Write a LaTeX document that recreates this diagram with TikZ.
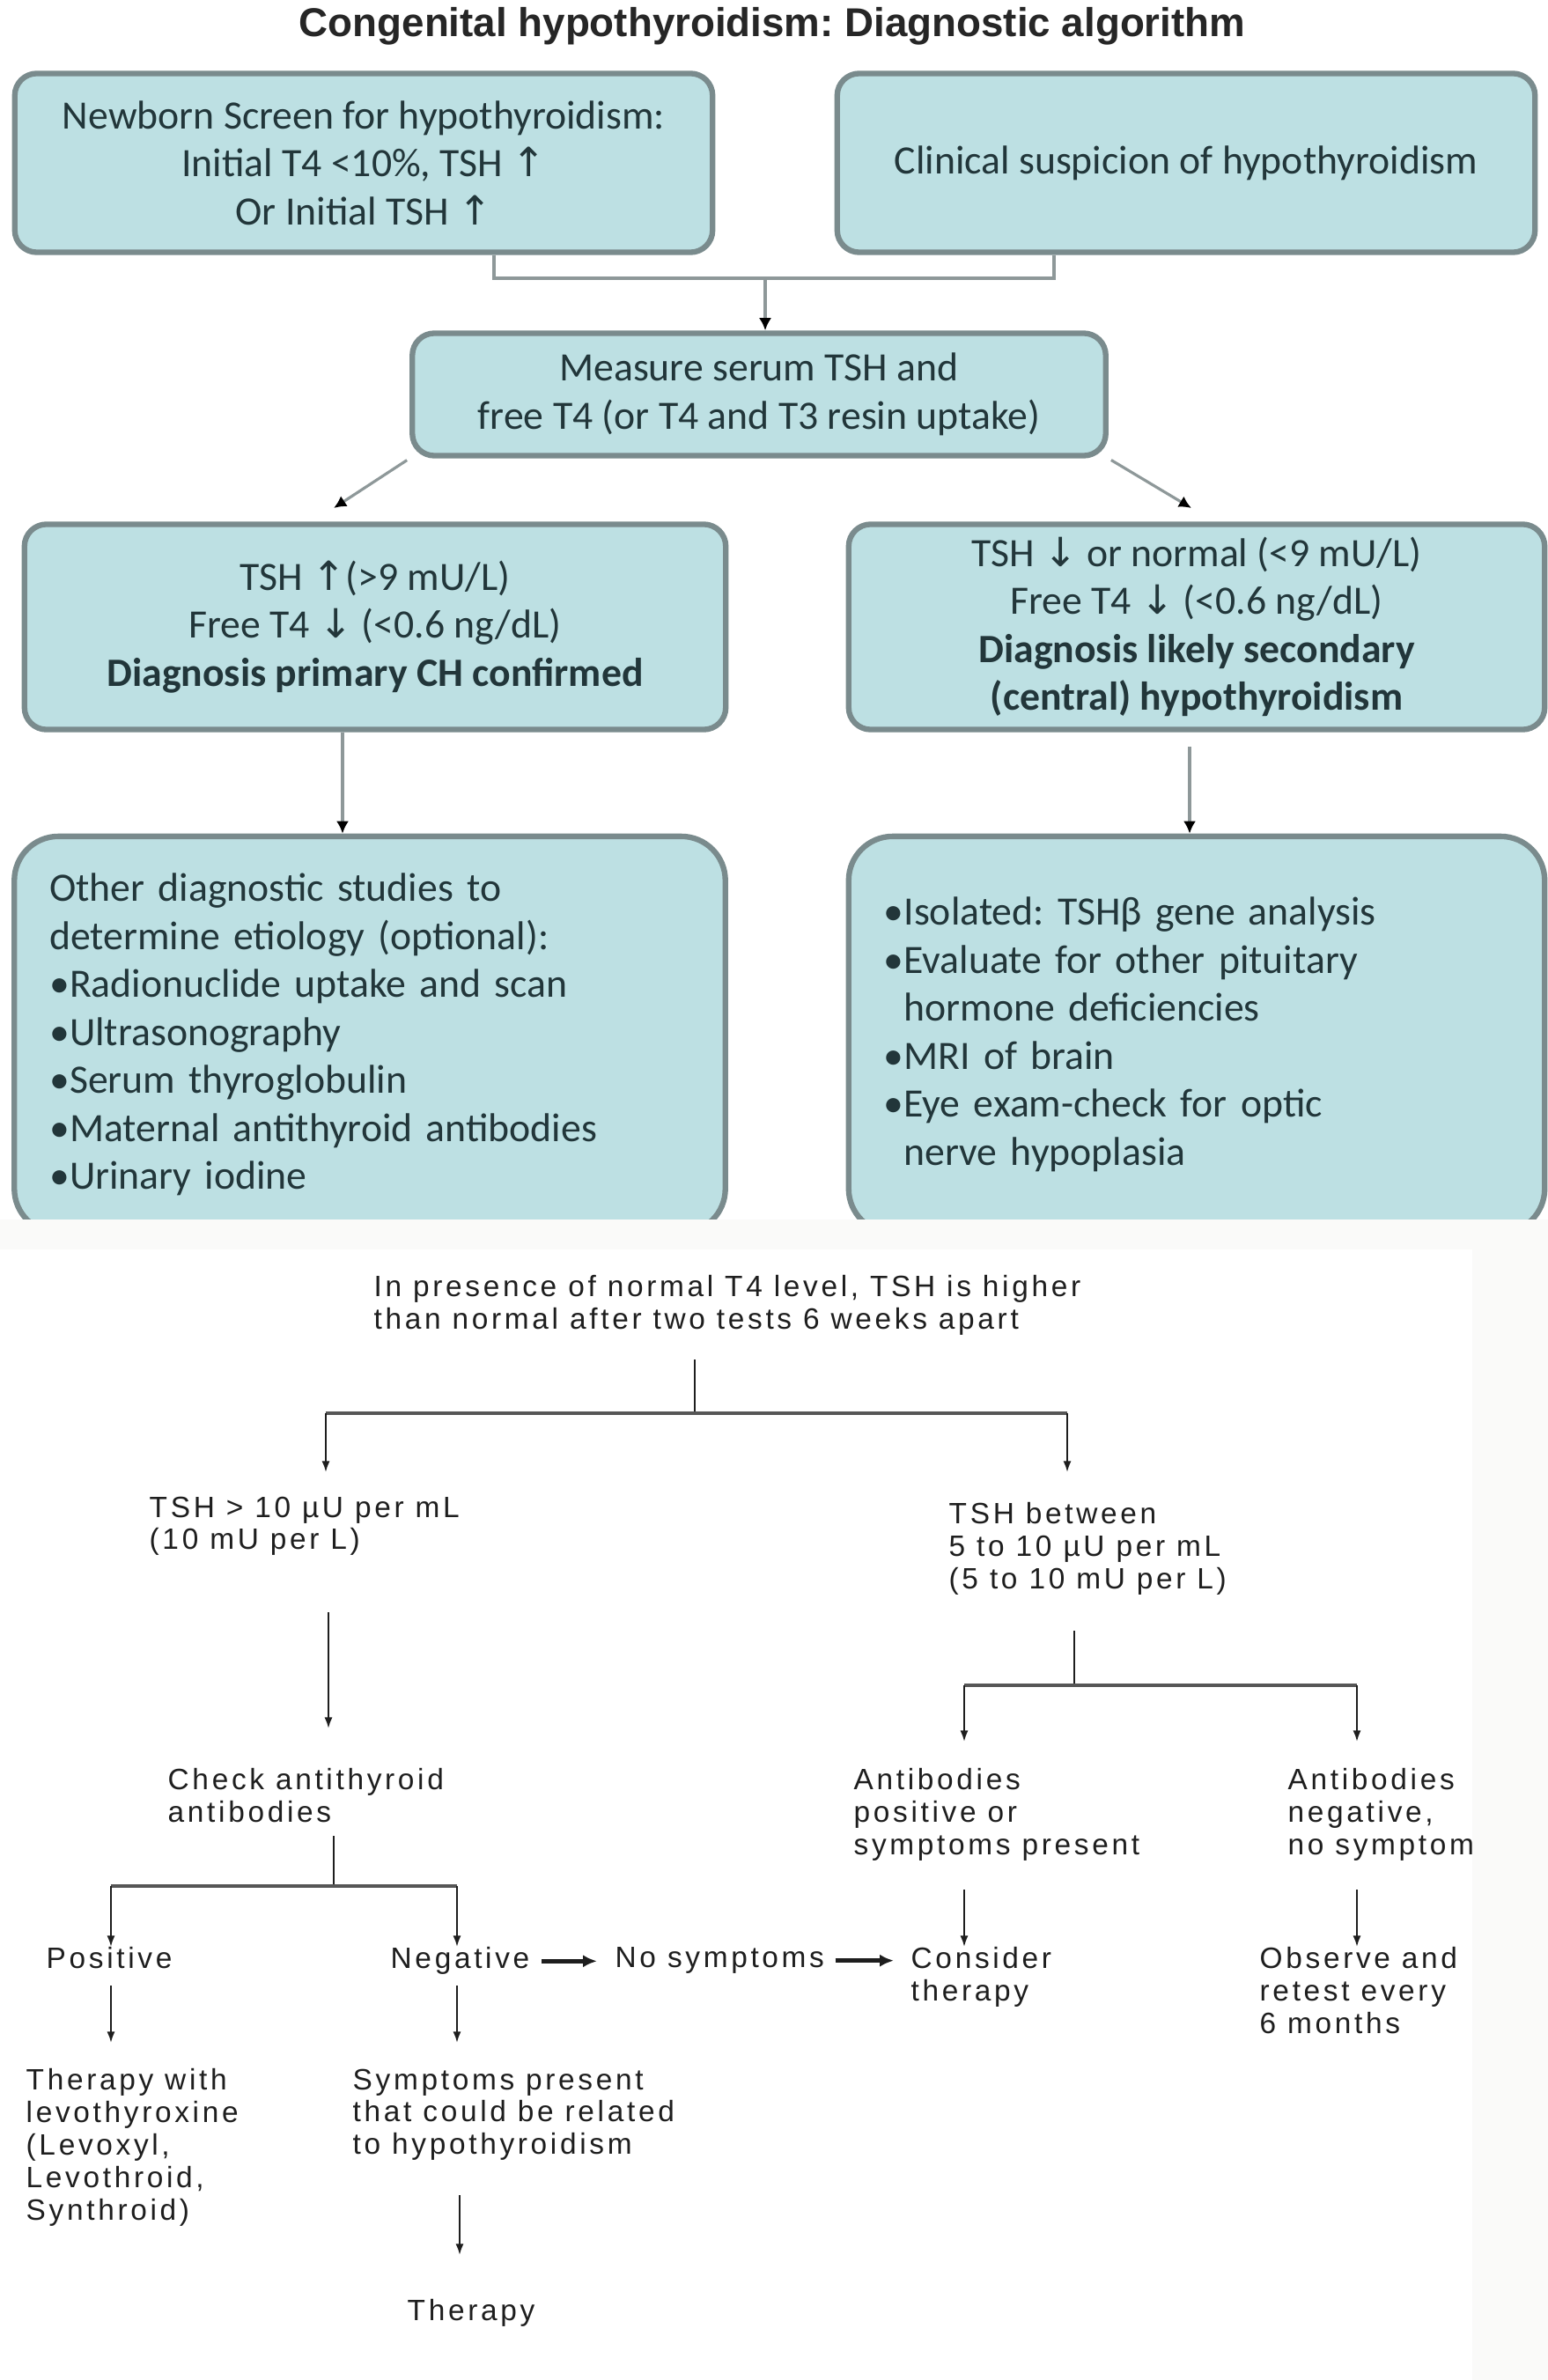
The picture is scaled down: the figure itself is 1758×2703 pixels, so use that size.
\documentclass[tikz,border=0pt]{standalone}
\usepackage{fontspec}
\usetikzlibrary{arrows.meta}

\newfontfamily\boxfont{Carlito}
\newfontfamily\headfont{Liberation Sans}
\newfontfamily\plainfont[LetterSpace=11]{Liberation Sans}
\newfontfamily\arrowfont{DejaVu Sans}
\newcommand{\uparr}{{\arrowfont ↑}}
\newcommand{\dnarr}{{\arrowfont ↓}}
\frenchspacing

\definecolor{boxfill}{HTML}{BDE0E3}
\definecolor{boxedge}{HTML}{7A8B8D}
\definecolor{boxtext}{HTML}{22363A}
\definecolor{linkgray}{HTML}{8E9899}
\definecolor{stripgray}{HTML}{FAFAF9}
\definecolor{plaintext}{HTML}{1E1E1E}

\tikzset{
  algbox/.style={draw=boxedge, fill=boxfill, line width=1.8pt, rounded corners=0.25cm,
    text=boxtext, font=\boxfont\fontsize{13}{15.5}\selectfont, align=center, inner sep=0pt},
  listbox/.style={algbox, rounded corners=0.5cm, align=left, inner xsep=0.4cm},
  link/.style={draw=linkgray, line width=1.1pt},
  linkarrow/.style={draw=linkgray, line width=0.9pt, -{Latex[length=4pt,width=4pt,color=black]}},
  plain/.style={font=\plainfont\fontsize{9.5}{10.5}\selectfont, text=plaintext,
    align=left, inner sep=0pt, anchor=north west},
  stem/.style={draw=plaintext, line width=0.6pt},
  stemarrow/.style={stem, -{Latex[length=3.6pt,width=2.6pt]}},
  bar/.style={draw=plaintext!75, line width=1.4pt},
  hop/.style={draw=plaintext, line width=1.3pt, -{Latex[length=4.5pt,width=4pt]}}
}

\begin{document}
\begin{tikzpicture}[x=0.01cm, y=-0.01cm]
  \useasboundingbox (0,0) rectangle (1758,2703);
  \fill[white] (0,0) rectangle (1758,2703);

  \node[font=\headfont\bfseries\fontsize{13}{15}\selectfont, text=black!85] (title) at (877,30)
    {Congenital hypothyroidism: Diagnostic algorithm};

  % upper chart
  \node[algbox, minimum width=7.92cm, minimum height=2.03cm] (screen) at (413,185)
    {Newborn Screen for hypothyroidism:\\Initial T4 <10\%, TSH \uparr\\Or Initial TSH \uparr};
  \node[algbox, minimum width=7.92cm, minimum height=2.03cm] (clinical) at (1347,185)
    {Clinical suspicion of hypothyroidism};
  \node[algbox, minimum width=7.87cm, minimum height=1.39cm] (measure) at (862,448)
    {Measure serum TSH and\\free T4 (or T4 and T3 resin uptake)};
  \node[algbox, minimum width=7.96cm, minimum height=2.33cm] (primary) at (426,712)
    {TSH \uparr(>9 mU/L)\\Free T4 \dnarr\ (<0.6 ng/dL)\\\textbf{Diagnosis primary CH confirmed}};
  \node[algbox, minimum width=7.90cm, minimum height=2.33cm] (central) at (1359,712)
    {TSH \dnarr\ or normal (<9 mU/L)\\Free T4 \dnarr\ (<0.6 ng/dL)\\\textbf{Diagnosis likely secondary}\\\textbf{(central) hypothyroidism}};
  \node[listbox, text width=7.27cm, minimum height=4.5cm] (etio) at (420,1175)
    {Other diagnostic studies to\\determine etiology (optional):\\•Radionuclide uptake and scan\\•Ultrasonography\\•Serum thyroglobulin\\•Maternal antithyroid antibodies\\•Urinary iodine};
  \node[listbox, text width=7.10cm, minimum height=4.5cm] (workup) at (1359,1175)
    {•Isolated: TSHβ gene analysis\\•Evaluate for other pituitary\\\phantom{•}hormone deficiencies\\•MRI of brain\\•Eye exam-check for optic\\\phantom{•}nerve hypoplasia};

  \coordinate (joinL) at (561,316);
  \coordinate (joinR) at (1197,316);
  \coordinate (joinM) at (869,316);
  \draw[link] (joinL |- screen.south) -- (joinL) -- (joinR) -- (joinR |- clinical.south);
  \draw[linkarrow] (joinM) -- (joinM |- measure.north);
  \coordinate (leftEnd) at (379,577);
  \coordinate (rightEnd) at (1353,577);
  \draw[linkarrow, shorten <=1pt] (measure.south west) -- (leftEnd);
  \draw[linkarrow, shorten <=1pt] (measure.south east) -- (rightEnd);
  \coordinate (primStem) at (389,0);
  \coordinate (centStem) at (1351,0);
  \draw[linkarrow] (primStem |- primary.south) -- (primStem |- etio.north);
  \draw[linkarrow, shorten <=0.16cm] (centStem |- central.south) -- (centStem |- workup.north);

  % second picture pasted below
  \fill[stripgray] (0,1385) rectangle (1758,1419);
  \fill[stripgray] (1672,1419) rectangle (1758,2703);

  \node[plain] (normal) at (424,1448)
    {In presence of normal T4 level, TSH is higher\\than normal after two tests 6 weeks apart};
  \node[plain] (hi) at (169,1699) {TSH > 10 µU per mL\\(10 mU per L)};
  \node[plain] (mid) at (1077,1706) {TSH between\\5 to 10 µU per mL\\(5 to 10 mU per L)};
  \node[plain] (chk) at (190,2008) {Check antithyroid\\antibodies};
  \node[plain] (abpos) at (969,2008) {Antibodies\\positive or\\symptoms present};
  \node[plain] (abneg) at (1462,2008) {Antibodies\\negative,\\no symptom};
  \node[plain] (pos) at (52,2211) {Positive};
  \node[plain] (neg) at (443,2211) {Negative};
  \node[plain] (nosym) at (698,2211) {No symptoms};
  \node[plain] (cons) at (1034,2211) {Consider\\therapy};
  \node[plain] (obs) at (1430,2211) {Observe and\\retest every\\6 months};
  \node[plain] (levo) at (29,2349) {Therapy with\\levothyroxine\\(Levoxyl,\\Levothroid,\\Synthroid)};
  \node[plain] (sympt) at (400,2349) {Symptoms present\\that could be related\\to hypothyroidism};
  \node[plain] (ther) at (462,2611) {Therapy};

  \coordinate (normalStem) at (789,1544);
  \coordinate (split) at (789,1605);
  \coordinate (hiTop) at (370,1605);
  \coordinate (midTop) at (1212,1605);
  \draw[stem] (normalStem) -- (split);
  \draw[bar] (hiTop) -- (midTop);
  \draw[stemarrow, shorten >=0.27cm] (hiTop) -- (hiTop |- hi.north);
  \draw[stemarrow, shorten >=0.34cm] (midTop) -- (midTop |- mid.north);

  \coordinate (hiStem) at (373,1831);
  \draw[stemarrow, shorten >=0.45cm] (hiStem) -- (hiStem |- chk.north);

  \coordinate (midStem) at (1220,1852);
  \coordinate (midSplit) at (1220,1914);
  \coordinate (posTop) at (1095,1914);
  \coordinate (negTop) at (1541,1914);
  \draw[stem] (midStem) -- (midSplit);
  \draw[bar] (posTop) -- (negTop);
  \draw[stemarrow, shorten >=0.3cm] (posTop) -- (posTop |- abpos.north);
  \draw[stemarrow, shorten >=0.3cm] (negTop) -- (negTop |- abneg.north);

  \coordinate (chkStem) at (379,2085);
  \coordinate (chkSplit) at (379,2142);
  \coordinate (posiTop) at (126,2142);
  \coordinate (negaTop) at (519,2142);
  \draw[stem] (chkStem) -- (chkSplit);
  \draw[bar] (posiTop) -- (negaTop);
  \draw[stemarrow] (posiTop) -- (posiTop |- pos.north);
  \draw[stemarrow] (negaTop) -- (negaTop |- neg.north);

  \coordinate (abposStem) at (1095,2146);
  \coordinate (abnegStem) at (1541,2146);
  \draw[stemarrow] (abposStem) -- (abposStem |- cons.north);
  \draw[stemarrow] (abnegStem) -- (abnegStem |- obs.north);

  \coordinate (posStem) at (126,2255);
  \coordinate (negStem) at (519,2255);
  \coordinate (symptStem) at (522,2493);
  \draw[stemarrow, shorten >=0.29cm] (posStem) -- (posStem |- levo.north);
  \draw[stemarrow, shorten >=0.29cm] (negStem) -- (negStem |- sympt.north);
  \draw[stemarrow, shorten >=0.5cm] (symptStem) -- (symptStem |- ther.north);

  \draw[hop, shorten <=0.13cm, shorten >=0.2cm] (neg.east) -- (neg.east -| nosym.west);
  \draw[hop, shorten <=0.12cm, shorten >=0.19cm] (nosym.east) -- (nosym.east -| cons.west);
\end{tikzpicture}
\end{document}
